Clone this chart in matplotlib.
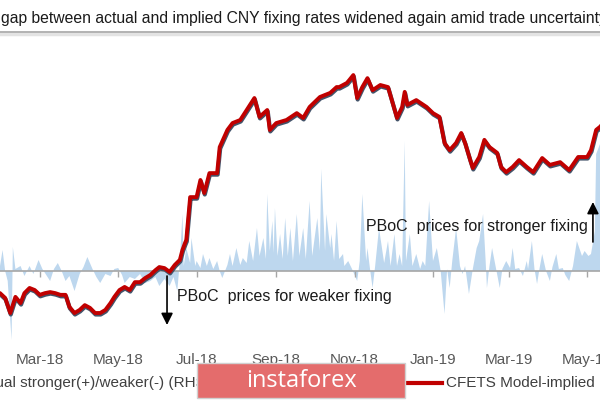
import matplotlib
matplotlib.use("Agg")
from matplotlib import pyplot as plt
import matplotlib.dates as mdates
import matplotlib.transforms as mtransforms
from matplotlib.lines import Line2D
from matplotlib.patches import Rectangle
import pandas as pd

plt.rcParams['font.family'] = ['Liberation Sans', 'DejaVu Sans']

start = pd.Timestamp("2018-01-29")  # day 0 of the series below

# CFETS model-implied USD/CNY fixing (days after start, level)
impl_day = [-3, 0, 4, 8, 12, 16, 19, 23, 27, 31, 35, 39, 43, 47, 51, 54, 58, 62, 66, 70,
            74, 78, 82, 86, 89, 93, 97, 101, 105, 109, 113, 117, 121, 124, 128, 132, 136,
            140, 142, 144, 145, 148, 149, 153, 156, 159, 163, 169, 171, 177, 181, 187, 192,
            198, 202, 208, 210, 215, 223, 231, 236, 241, 249, 257, 262, 264, 270, 272, 275,
            278, 282, 286, 290, 296, 302, 309, 313, 315, 317, 324, 332, 337, 342, 346, 350,
            355, 359, 362, 366, 368, 373, 377, 381, 387, 390, 394, 399, 404, 410, 415, 422,
            428, 436, 443, 450, 457, 460, 464, 467, 471]
impl_fix = [6.330, 6.328, 6.314, 6.270, 6.317, 6.299, 6.328, 6.343, 6.337, 6.323, 6.328,
            6.331, 6.328, 6.323, 6.323, 6.288, 6.270, 6.279, 6.293, 6.285, 6.270, 6.270,
            6.279, 6.299, 6.317, 6.337, 6.346, 6.337, 6.360, 6.360, 6.372, 6.381, 6.395,
            6.404, 6.401, 6.390, 6.410, 6.425, 6.454, 6.474, 6.483, 6.608, 6.608, 6.608,
            6.658, 6.620, 6.678, 6.678, 6.754, 6.804, 6.824, 6.833, 6.862, 6.897, 6.842,
            6.862, 6.804, 6.824, 6.833, 6.853, 6.839, 6.871, 6.900, 6.912, 6.929, 6.929,
            6.941, 6.950, 6.964, 6.897, 6.929, 6.955, 6.920, 6.935, 6.929, 6.839, 6.871,
            6.915, 6.877, 6.891, 6.871, 6.853, 6.842, 6.766, 6.745, 6.766, 6.795, 6.766,
            6.716, 6.693, 6.725, 6.775, 6.754, 6.737, 6.696, 6.681, 6.696, 6.716, 6.696,
            6.681, 6.722, 6.702, 6.710, 6.687, 6.725, 6.725, 6.745, 6.804, 6.813, 6.830]

# gap, actual stronger(+)/weaker(-), pips (RHS)
gap_day = [-2, 0, 2, 4, 6, 9, 10, 12, 16, 19, 23, 26, 30, 33, 36, 39, 42, 45, 48, 51, 54,
           58, 62, 65, 68, 72, 75, 78, 82, 86, 89, 92, 95, 97, 101, 105, 109, 113, 117, 121,
           124, 128, 132, 135, 138, 140, 142, 143, 145, 148, 149, 152, 153, 156, 158, 161,
           163, 166, 169, 171, 173, 177, 179, 181, 184, 187, 189, 192, 194, 197, 200, 202,
           205, 207, 208, 210, 212, 213, 214, 216, 218, 220, 222, 224, 226, 228, 231, 233,
           236, 238, 241, 243, 247, 249, 250, 253, 254, 257, 258, 260, 262, 264, 267, 268,
           271, 274, 278, 280, 282, 285, 286, 288, 290, 292, 295, 299, 302, 304, 307, 309,
           311, 313, 315, 316, 319, 321, 324, 327, 329, 331, 334, 337, 340, 343, 346, 348,
           350, 352, 355, 358, 360, 362, 365, 368, 371, 373, 376, 378, 379, 381, 383, 386,
           389, 391, 394, 397, 399, 401, 404, 407, 410, 411, 414, 416, 418, 420, 422, 425,
           428, 430, 433, 435, 438, 440, 443, 446, 449, 453, 455, 458, 460, 463, 464, 467, 471]
gap_pips = [0, 10, 42, 0, -20, -138, 48, 4, 10, -10, 10, -6, 22, 4, -8, -20, 4, 16, 0, -20,
            -10, -40, -6, 8, 28, 4, -12, -24, -6, -10, 4, 6, -8, -24, -12, -16, -6, -24, -20,
            -12, -30, -16, -30, -12, -40, 20, 114, 10, 46, 16, 66, 10, 20, 6, 34, 10, 26, 4,
            20, 0, -14, 12, 34, 10, 46, 12, 26, 16, 60, 20, 86, 30, 66, 24, 154, 40, 100, 36,
            126, 30, 74, 24, 106, 30, 86, 20, 114, 30, 86, 24, 140, 30, 106, 40, 204, 40, 114,
            46, 74, 20, 100, 24, 34, 10, 20, 4, -20, 20, 154, 20, 46, 4, -34, 10, 86, 16, 60,
            10, 74, 10, 34, 10, 260, 20, 74, 10, 34, 4, 20, 10, 140, 20, 46, 0, -86, 4, -34,
            20, 86, 10, -6, 10, -46, 4, 46, 60, 114, 20, -34, 10, 46, 6, -34, 4, 20, 6, 46, 4,
            6, -10, 20, 4, 60, 4, -26, 6, 34, 0, -20, 8, 34, 4, 6, -8, -20, 10, 60, 30, 40,
            30, 34, 80, 234, 254, 270]

title = "gap between actual and implied CNY fixing rates widened again amid trade uncertainty"

impl_dates = start + pd.to_timedelta(impl_day, unit="D")
gap_dates = start + pd.to_timedelta(gap_day, unit="D")

fig = plt.figure(figsize=(6, 4), dpi=100)
ax = fig.add_axes([0, 0.1375, 1, 0.7625])
ax2 = ax.twinx()
ax.set_zorder(ax2.get_zorder() + 1)
ax.patch.set_visible(False)

# gap area (RHS)
ax2.fill_between(gap_dates, 0, gap_pips, color='#bdd7ee', lw=0)
ax2.set_ylim(-148, 462)

# actual fixing sits just under the model line
shadow = mtransforms.offset_copy(ax.transData, fig=fig, x=0.5, y=-1.5, units='dots')
ax.plot(impl_dates, impl_fix, color='#44546a', lw=3, transform=shadow,
        solid_joinstyle='round')
ax.plot(impl_dates, impl_fix, color='#c00000', lw=2.8, solid_joinstyle='round')
ax.set_ylim(6.1767, 7.0663)

ax.set_xlim(start, start + pd.Timedelta(days=467))
ax.xaxis.set_major_locator(mdates.MonthLocator(bymonth=[1, 3, 5, 7, 9, 11]))
ax.xaxis.set_major_formatter(mdates.DateFormatter('%b-%y'))
ax.tick_params(axis='x', length=0, pad=6, labelsize=11, labelcolor='#595959')
ax.set_yticks([])
for s in ax.spines.values():
    s.set_visible(False)

# zero line with tick marks
ax2.xaxis.set_visible(True)
ax2.tick_params(axis='x', labelbottom=False, length=4, width=1, color='#a6a6a6', direction='out')
ax2.set_yticks([])
for k in ['top', 'left', 'right']:
    ax2.spines[k].set_visible(False)
ax2.spines['bottom'].set_position(('data', 0))
ax2.spines['bottom'].set_color('#a6a6a6')
ax2.spines['bottom'].set_linewidth(1.2)

# annotations
arrow = dict(arrowstyle='-|>,head_length=0.7,head_width=0.35', color='black', lw=1.2,
             shrinkA=0, shrinkB=0)
ax2.annotate('', xy=(start + pd.Timedelta(days=130), -108),
             xytext=(start + pd.Timedelta(days=130), -10), arrowprops=arrow)
ax2.text(start + pd.Timedelta(days=138), -52, 'PBoC  prices for weaker fixing',
         fontsize=11.5, color='#1a1a1a', va='center', ha='left')
ax2.annotate('', xy=(start + pd.Timedelta(days=461.5), 138),
             xytext=(start + pd.Timedelta(days=461.5), 58), arrowprops=arrow)
ax2.text(start + pd.Timedelta(days=457.5), 90, 'PBoC  prices for stronger fixing',
         fontsize=11.5, color='#1a1a1a', va='center', ha='right')

# title and rule
fig.text(0.002, 1 - 19 / 400, title, fontsize=11.3, color='#1a1a1a', va='center', ha='left')
fig.add_artist(Line2D([0, 1], [1 - 34 / 400] * 2, color='#e3e3e3', lw=2.5))
fig.add_artist(Line2D([0, 1], [1 - 32 / 400] * 2, color='#a6a6a6', lw=1.2))

# legend row
fig.text(-62 / 600, 1 - 383 / 400, 'Gap: actual stronger(+)/weaker(-) (RHS)', fontsize=11,
         color='#404040', va='center', ha='left')
fig.add_artist(Line2D([407 / 600, 442 / 600], [1 - 383 / 400] * 2, color='#c00000', lw=3))
fig.text(446 / 600, 1 - 383 / 400, 'CFETS Model-implied', fontsize=11,
         color='#404040', va='center', ha='left')

# watermark
fig.add_artist(Rectangle((197 / 600, 1 - 398 / 400), 208 / 600, 35 / 400,
                         transform=fig.transFigure, facecolor='#e46c6c',
                         edgecolor='#d0d0d0', lw=1, zorder=5))
fig.text(301 / 600, 1 - 381 / 400, 'instaforex', fontsize=17, color='white',
         va='center', ha='center', family=['Open Sans', 'DejaVu Sans'], zorder=6)

fig.savefig('out.png', dpi=100)
